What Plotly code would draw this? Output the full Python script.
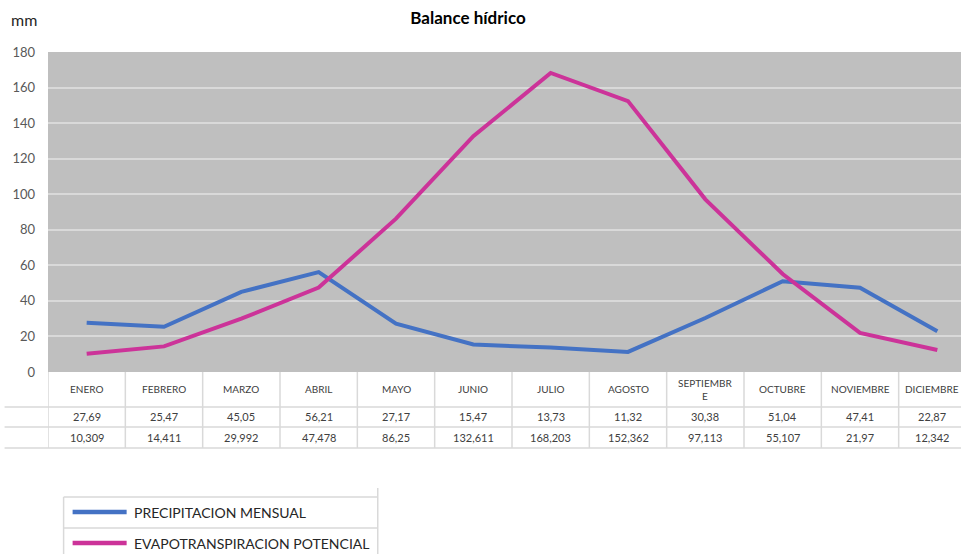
import plotly.graph_objects as go

months = ["ENERO", "FEBRERO", "MARZO", "ABRIL", "MAYO", "JUNIO", "JULIO",
          "AGOSTO", "SEPTIEMBRE", "OCTUBRE", "NOVIEMBRE", "DICIEMBRE"]
month_labels = ["ENERO", "FEBRERO", "MARZO", "ABRIL", "MAYO", "JUNIO", "JULIO",
                "AGOSTO", "SEPTIEMBR<br>E", "OCTUBRE", "NOVIEMBRE", "DICIEMBRE"]
precip = [27.69, 25.47, 45.05, 56.21, 27.17, 15.47, 13.73, 11.32, 30.38, 51.04, 47.41, 22.87]
evapo = [10.309, 14.411, 29.992, 47.478, 86.25, 132.611, 168.203, 152.362, 97.113, 55.107, 21.97, 12.342]
series_names = ["PRECIPITACION MENSUAL", "EVAPOTRANSPIRACION POTENCIAL"]
colors = ["#4472C4", "#CC3399"]
y_ticks = [0, 20, 40, 60, 80, 100, 120, 140, 160, 180]

FONT = "Lato"
W, H = 961, 554
L, R, T, B = 48.4, 0, 52, 182
plot_w = W - L - R
plot_h = H - T - B
col_w = 77.3
x_max = plot_w / col_w - 0.5


def px_x(px):
    return (px - L) / plot_w


def px_y(py):
    return (H - B - py) / plot_h


xs = list(range(len(months)))

fig = go.Figure()
for vals, name, col in zip([precip, evapo], series_names, colors):
    fig.add_trace(go.Scatter(x=xs, y=vals, mode="lines", name=name,
                             line=dict(color=col, width=4), showlegend=False,
                             hoverinfo="x+y"))

shapes = []
grid_col = "#D9D9D9"
# table horizontal lines
for py in [407, 427, 448]:
    shapes.append(dict(type="line", xref="paper", yref="paper",
                       x0=px_x(5), x1=1, y0=px_y(py), y1=px_y(py),
                       line=dict(color=grid_col, width=1.5)))
# table vertical lines
for k in range(len(months) + 1):
    shapes.append(dict(type="line", xref="x", yref="paper",
                       x0=k - 0.5, x1=k - 0.5, y0=0, y1=px_y(448),
                       line=dict(color=grid_col, width=1.5)))

annotations = []
n = len(month_labels)
for i, lab in enumerate(month_labels):
    shift = -5 if i == n - 1 else 0
    annotations.append(dict(x=i, y=px_y(389), xref="x", yref="paper", text=lab,
                            showarrow=False, font=dict(family=FONT, size=10, color="#404040"),
                            xanchor="center", yanchor="middle", xshift=shift))
    annotations.append(dict(x=i, y=px_y(416.5), xref="x", yref="paper",
                            text=str(precip[i]).replace(".", ","),
                            showarrow=False, font=dict(family=FONT, size=11, color="#404040"),
                            xanchor="center", yanchor="middle", xshift=shift))
    annotations.append(dict(x=i, y=px_y(437.5), xref="x", yref="paper",
                            text=str(evapo[i]).replace(".", ","),
                            showarrow=False, font=dict(family=FONT, size=11, color="#404040"),
                            xanchor="center", yanchor="middle", xshift=shift))

# "mm" label
annotations.append(dict(x=px_x(9), y=px_y(20), xref="paper", yref="paper", text="mm",
                        showarrow=False, font=dict(family=FONT, size=16, color="#262626"),
                        xanchor="left", yanchor="middle"))

# legend frame
legend_col = "#D9D9D9"
for py in [497, 528]:
    shapes.append(dict(type="line", xref="paper", yref="paper",
                       x0=px_x(64), x1=px_x(378), y0=px_y(py), y1=px_y(py),
                       line=dict(color=legend_col, width=1.5)))
shapes.append(dict(type="line", xref="paper", yref="paper",
                   x0=px_x(64), x1=px_x(64), y0=px_y(497), y1=px_y(560),
                   line=dict(color=legend_col, width=1.5)))
shapes.append(dict(type="line", xref="paper", yref="paper",
                   x0=px_x(378), x1=px_x(378), y0=px_y(488), y1=px_y(560),
                   line=dict(color=legend_col, width=1.5)))
for name, col, py in zip(series_names, colors, [512, 543]):
    shapes.append(dict(type="line", xref="paper", yref="paper",
                       x0=px_x(73), x1=px_x(127), y0=px_y(py), y1=px_y(py),
                       line=dict(color=col, width=4.5)))
    annotations.append(dict(x=px_x(132), y=px_y(py), xref="paper", yref="paper", text=name,
                            showarrow=False, font=dict(family=FONT, size=14, color="#262626"),
                            xanchor="left", yanchor="middle"))

fig.update_layout(
    width=W, height=H,
    margin=dict(l=L, r=R, t=T, b=B, pad=0),
    paper_bgcolor="white",
    plot_bgcolor="#BFBFBF",
    title=dict(text="<b>Balance hídrico</b>", x=468 / W, xref="container", xanchor="center",
               y=1 - 18 / H, yref="container", yanchor="middle",
               font=dict(family=FONT, size=17, color="#000000")),
    xaxis=dict(range=[-0.5, x_max], showticklabels=False, showgrid=False,
               zeroline=False, showline=False, fixedrange=True),
    yaxis=dict(range=[0, 180], tickvals=y_ticks, showgrid=True, gridcolor=grid_col,
               gridwidth=2, zeroline=False, showline=False,
               tickfont=dict(family=FONT, size=13, color="#595959"),
               ticklabelstandoff=12),
    shapes=shapes,
    annotations=annotations,
    showlegend=False,
)

fig.write_html("out.html", config={"displayModeBar": False},
               post_script="document.body.style.margin='0px';document.body.style.overflow='hidden';")
